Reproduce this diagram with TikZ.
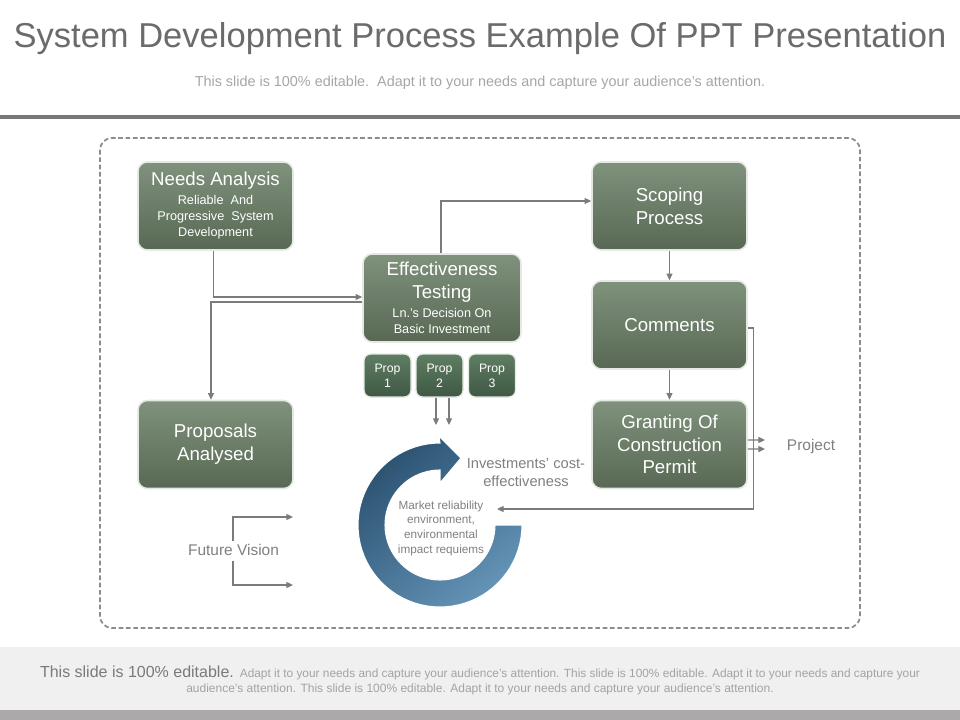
\documentclass[tikz,border=0pt]{standalone}
\usepackage{fontspec}
\setmainfont{Liberation Sans}
\usetikzlibrary{arrows.meta,calc}
\definecolor{titlegray}{HTML}{6B6B6B}
\definecolor{subgray}{HTML}{A6A6A6}
\definecolor{bargray}{HTML}{777777}
\definecolor{framegray}{HTML}{8C8C8C}
\definecolor{conngray}{HTML}{7B7B7B}
\definecolor{txtgray}{HTML}{808080}
\definecolor{boxtop}{HTML}{7F927C}
\definecolor{boxbot}{HTML}{586854}
\definecolor{proptop}{HTML}{5F7E63}
\definecolor{propbot}{HTML}{3F5844}
\definecolor{boxedge}{HTML}{E4E9E2}
\definecolor{ringA}{HTML}{2C5271}
\definecolor{ringB}{HTML}{6393B6}
\definecolor{footbg}{HTML}{F0F0F0}
\definecolor{footbar}{HTML}{ABA9A9}
\definecolor{footbig}{HTML}{7A7A7A}
\definecolor{footsmall}{HTML}{A3A3A3}
\newcommand{\boxbig}{\fontsize{14pt}{17pt}\selectfont}
\newcommand{\boxsmall}{\fontsize{9.5pt}{12pt}\selectfont}
\begin{document}
\begin{tikzpicture}[x=0.75pt,y=-0.75pt,
  box/.style={rounded corners=7pt, top color=boxtop, bottom color=boxbot, draw=boxedge,
    line width=1.2pt, text=white, align=center, minimum width=116.25pt, minimum height=66pt, inner sep=2pt},
  bigbox/.style={box, font=\boxbig},
  smallbox/.style={box, font=\boxsmall},
  propbox/.style={rounded corners=5pt, top color=proptop, bottom color=propbot, draw=boxedge,
    line width=1pt, text=white, align=center, minimum width=35.25pt, minimum height=32.25pt, inner sep=1pt,
    font=\fontsize{9.2pt}{11.25pt}\selectfont},
  conn/.style={draw=conngray, line width=0.9pt, -{Triangle[length=5pt,width=4.5pt]}},
]
\useasboundingbox (0,0) rectangle (960,720);
\fill[white] (0,0) rectangle (960,720);

% header
\node[text=titlegray, font=\fontsize{25.9pt}{30pt}\selectfont] (title) at (480,39) {System Development Process Example Of PPT Presentation};
\node[text=subgray, font=\fontsize{10.8pt}{13pt}\selectfont] (sub) at (480,83) {This slide is 100\% editable.\ \ Adapt it to your needs and capture your audience's attention.};
\fill[bargray] (0,115) rectangle (960,119);

% frame
\draw[framegray, line width=1.3pt, dash pattern=on 3.5pt off 2pt, rounded corners=9pt] (100,138) rectangle (860,628);

% boxes
\node[smallbox] (needs) at (215.5,206) {{\boxbig Needs Analysis}\\[2.25pt]
  Reliable\ \ And\\ Progressive\ \ System\\ Development};
\node[smallbox, minimum width=118.5pt] (eff) at (442,298) {{\boxbig Effectiveness}\\[5.25pt]{\boxbig Testing}\\[2.25pt]
  Ln.'s Decision On\\ Basic Investment};
\node[bigbox] (scope) at (669.5,206) {Scoping\\ Process};
\node[bigbox] (comm) at (669.5,325) {Comments};
\node[bigbox] (grant) at (669.5,444.5) {Granting Of\\ Construction\\ Permit};
\node[bigbox] (prop) at (215.5,444.5) {Proposals\\ Analysed};

\node[propbox] (p1) at (387.5,375.5) {Prop\\ 1};
\node[propbox] (p2) at (439.5,375.5) {Prop\\ 2};
\node[propbox] (p3) at (492,375.5) {Prop\\ 3};

% ring
\shade[top color=ringA, bottom color=ringB, shading angle=40, draw=white, line width=0.8pt]
  plot[domain=0:270, samples=61] ({440+82*cos(\x)},{525+82*sin(\x)})
  -- (439,436) -- (461,458) -- (440,483)
  -- plot[domain=270:0, samples=61] ({440+55*cos(\x)},{525+55*sin(\x)}) -- cycle;

\node[text=txtgray, align=center, font=\fontsize{8.8pt}{11pt}\selectfont] (mkt) at (441,528)
  {Market reliability\\ environment,\\ environmental\\ impact requiems};
\node[text=txtgray, align=center, font=\fontsize{11pt}{13.5pt}\selectfont] (inv) at (526,473)
  {Investments' cost-\\ effectiveness};
\node[text=txtgray, font=\fontsize{11.6pt}{14pt}\selectfont] (proj) at (811,446) {Project};
\node[text=txtgray, font=\fontsize{11.6pt}{14pt}\selectfont] (fv) at (233.5,550) {Future\ Vision};

% coordinates for free ends
\coordinate (fb) at (497,509);
\coordinate (pa) at (765,440);
\coordinate (pb) at (765,449);
\coordinate (ra) at (436,425);
\coordinate (rb) at (449,425);
\coordinate (fvt) at (233,541);
\coordinate (fvb) at (233,561);
\coordinate (fva) at (293,517);
\coordinate (fvc) at (293,585);

% connectors
\draw[conn] ([xshift=-1.5pt]needs.south) |- ([yshift=0.75pt]eff.west);
\draw[conn] ([yshift=-3pt]eff.west) -| ([xshift=-3.4pt]prop.north);
\draw[conn] ([xshift=-0.75pt]eff.north) |- ([yshift=3.75pt]scope.west);
\draw[conn] (scope.south) -- (comm.north);
\draw[conn] (comm.south) -- (grant.north);
\draw[conn] ([yshift=-2.25pt]comm.east) -- ++(6,0) |- (fb);
\draw[conn] ([yshift=3.4pt]grant.east) -- (pa);
\draw[conn] ([yshift=-3.4pt]grant.east) -- (pb);
\draw[conn] (p2.south -| ra) -- (ra);
\draw[conn] (p2.south -| rb) -- (rb);
\draw[conn] (fvt) |- (fva);
\draw[conn] (fvb) |- (fvc);

% footer
\fill[footbg] (0,647) rectangle (960,710);
\fill[footbar] (0,710) rectangle (960,720);
\node[inner sep=0pt, anchor=base] (f1) at (480,677) {\fontsize{12pt}{14pt}\selectfont\color{footbig}This slide is 100\% editable.
  \fontsize{8.9pt}{10pt}\selectfont\color{footsmall}Adapt it to your needs and capture your audience's attention. This slide is 100\% editable. Adapt it to your needs and capture your};
\node[inner sep=0pt, anchor=base, text=footsmall, font=\fontsize{9pt}{10pt}\selectfont] (f2) at (480,692) {audience's attention. This slide is 100\% editable. Adapt it to your needs and capture your audience's attention.};
\end{tikzpicture}
\end{document}
